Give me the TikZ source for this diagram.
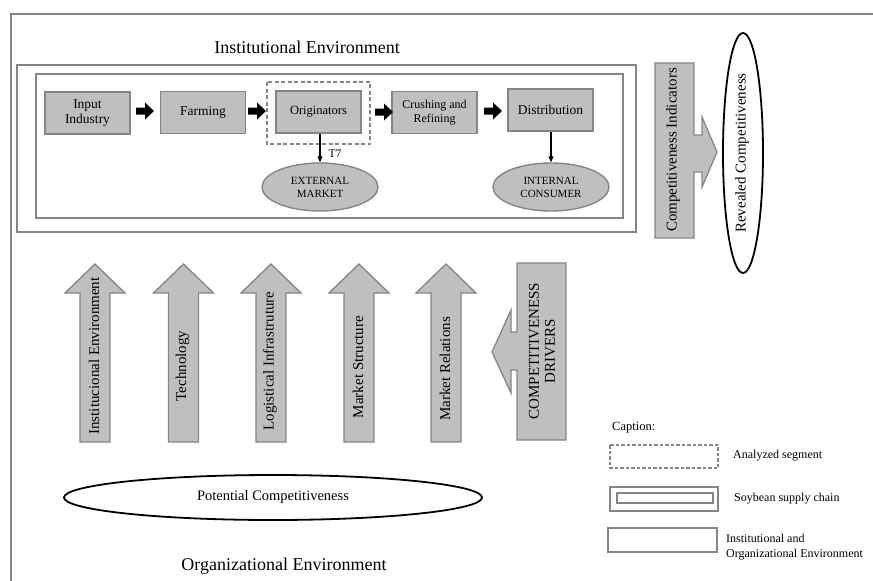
\documentclass[tikz,border=0pt]{standalone}
\usepackage{fontspec}
\setmainfont{Liberation Serif}
\usetikzlibrary{shapes.geometric,arrows.meta}
\definecolor{boxfill}{HTML}{BFBFBF}
\definecolor{boxline}{HTML}{858585}
\newcommand{\fs}[2]{\fontsize{#1}{#2}\selectfont}
\newcommand{\blackarrow}[2]{\fill[black] (#1,#2-3.5) -- ++(9,0) -- ++(0,-5) -- ++(9,8.5) -- ++(-9,8.5) -- ++(0,-5) -- ++(-9,0) -- cycle;}
\newcommand{\uparrowshape}[1]{\draw[garrow] (#1-15,442) -- (#1-15,293) -- (#1-30,293) -- (#1,264) -- (#1+30,293) -- (#1+15,293) -- (#1+15,442) -- cycle;}
\begin{document}
\begin{tikzpicture}[x=1pt,y=-1pt,
  chainbox/.style={draw=boxline,fill=boxfill,line width=1.4pt,minimum width=85pt,minimum height=42pt,align=center,inner sep=1pt},
  mkt/.style={ellipse,draw=boxline,fill=boxfill,line width=1.4pt,minimum width=116pt,minimum height=48pt,align=center,inner sep=0pt,font=\fs{11}{13}},
  frame/.style={draw=boxline,line width=1.4pt},
  garrow/.style={draw=boxline,fill=boxfill,line width=1.3pt,line join=miter},
  vtext/.style={rotate=90,font=\fs{15}{16},align=center,inner sep=0pt},
  thinarrow/.style={line width=1.2pt,-{Triangle[length=6pt,width=5pt]}},
  bigell/.style={ellipse,draw=black,line width=1.8pt,fill=white,inner sep=0pt},
  legtext/.style={anchor=west,font=\fs{12}{15.5},align=left,inner sep=0pt}
]
\useasboundingbox (0,0) rectangle (873,581);
% outer frame
\draw[frame] (11,581) -- (11,14) -- (873,14);
% environment box and supply chain box
\draw[frame] (17,65) rectangle (636,232);
\draw[frame] (36,74) rectangle (623,218);
\node[font=\fs{18}{20}] (instenv) at (307,47) {Institutional Environment};
% analyzed segment
\draw[boxline,line width=1.3pt,dash pattern=on 4pt off 2.5pt] (267,82) rectangle (370,144);
% chain boxes
\node[chainbox,font=\fs{13.5}{15.5}] (input) at (87.5,113) {Input\\Industry};
\node[chainbox,font=\fs{13.5}{15}] (farm) at (203,112.5) {Farming};
\node[chainbox,font=\fs{12.5}{15}] (orig) at (318.5,112) {Originators};
\node[chainbox,font=\fs{12}{13.5}] (crush) at (434.5,112.5) {Crushing and\\Refining};
\node[chainbox,font=\fs{13.5}{15}] (dist) at (550.5,110) {Distribution};
\blackarrow{136}{111}
\blackarrow{248}{111}
\blackarrow{375}{112}
\blackarrow{484}{111}
% markets
\node[mkt] (ext) at (320,187) {EXTERNAL\\MARKET};
\node[mkt] (int) at (551,187) {INTERNAL\\CONSUMER};
\draw[thinarrow] (orig.south -| ext.north) -- (ext.north);
\node[font=\fs{11.5}{13},inner sep=0pt] (t7) at (335,154) {T7};
\draw[thinarrow] (dist.south -| int.north) -- (int.north);
% competitiveness indicators
\draw[garrow] (655,63) -- (694,63) -- (694,135) -- (702,135) -- (702,117) -- (717,152) -- (702,187) -- (702,172) -- (694,172) -- (694,238) -- (655,238) -- cycle;
\node[vtext] (ind) at (673,150) {Competitiveness Indicators};
\node[bigell,minimum width=40pt,minimum height=240pt] (rev) at (743,153) {};
\node[vtext] (revt) at (742,153) {Revealed Competitiveness};
% up arrows
\uparrowshape{95}
\uparrowshape{183.5}
\uparrowshape{271}
\uparrowshape{359}
\uparrowshape{446}
\node[vtext] (d1) at (94,356) {Institucional Environment};
\node[vtext] (d2) at (182.5,366) {Technology};
\node[vtext] (d3) at (270,361) {Logistical Infrastruture};
\node[vtext] (d4) at (358,367) {Market Structure};
\node[vtext] (d5) at (445,369) {Market Relations};
% drivers
\draw[garrow] (517,263) -- (566,263) -- (566,440) -- (517,440) -- (517,370) -- (511,370) -- (511,393) -- (492,352) -- (511,310) -- (511,332) -- (517,332) -- cycle;
\node[vtext] (drv) at (542,351) {COMPETITIVENESS\\DRIVERS};
% potential
\node[bigell,minimum width=418pt,minimum height=45pt,font=\fs{14.5}{16}] (pot) at (273,497.5) {Potential Competitiveness};
\node[font=\fs{18}{20}] (orgenv) at (284,566) {Organizational Environment};
% caption
\node[anchor=west,font=\fs{12.5}{15},inner sep=0pt] (cap) at (612,428) {Caption:};
\draw[boxline,line width=1.2pt,dash pattern=on 3.5pt off 2pt] (610,445) rectangle (718,468);
\node[legtext] (l1) at (733,456) {Analyzed segment};
\draw[boxline,line width=1.3pt] (610,487) rectangle (718,511);
\draw[boxline,line width=1.3pt] (617,493) rectangle (713,503);
\node[legtext] (l2) at (734,499) {Soybean supply chain};
\draw[boxline,line width=1.3pt] (608,528) rectangle (717,552);
\node[legtext] (l3) at (726,547) {Institutional and\\Organizational Environment};
\end{tikzpicture}
\end{document}
